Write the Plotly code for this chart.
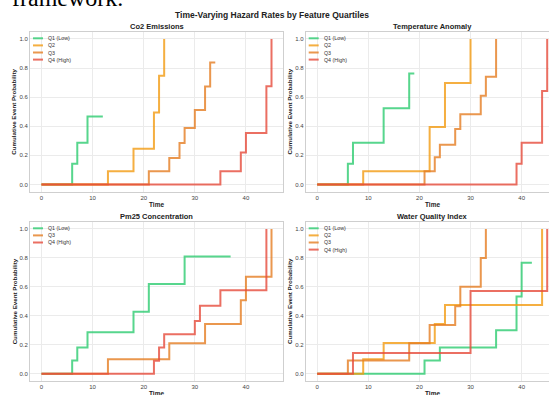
import plotly.graph_objects as go

# ---------------- data ----------------
quartile_names = ["Q1 (Low)", "Q2", "Q3", "Q4 (High)"]
quartile_colors = ["#2ecc71", "#f39c12", "#e67e22", "#e74c3c"]
panel_titles = ["Co2 Emissions", "Temperature Anomaly", "Pm25 Concentration", "Water Quality Index"]
x_ticks = [0, 10, 20, 30, 40]
y_ticks = [0.0, 0.2, 0.4, 0.6, 0.8, 1.0]

co2_q1_t = [0, 6, 7, 9, 12]
co2_q1_p = [0, 0.143, 0.286, 0.467, 0.467]
co2_q2_t = [0, 13, 18, 22, 23, 24]
co2_q2_p = [0, 0.091, 0.245, 0.495, 0.748, 1.0]
co2_q3_t = [0, 21, 25, 27, 28, 30, 32, 33, 34]
co2_q3_p = [0, 0.091, 0.182, 0.284, 0.388, 0.511, 0.674, 0.839, 0.839]
co2_q4_t = [0, 35, 39, 40, 44, 45]
co2_q4_p = [0, 0.091, 0.22, 0.353, 0.675, 1.0]

temp_q1_t = [0, 6, 7, 13, 18, 19]
temp_q1_p = [0, 0.143, 0.286, 0.524, 0.762, 0.762]
temp_q2_t = [0, 9, 22, 25, 30]
temp_q2_p = [0, 0.091, 0.394, 0.697, 1.0]
temp_q3_t = [0, 21, 23, 24, 27, 28, 32, 33, 35]
temp_q3_p = [0, 0.091, 0.186, 0.273, 0.381, 0.482, 0.61, 0.741, 1.0]
temp_q4_t = [0, 39, 40, 44, 45]
temp_q4_p = [0, 0.143, 0.286, 0.643, 1.0]

pm_q1_t = [0, 6, 7, 9, 18, 21, 28, 37]
pm_q1_p = [0, 0.091, 0.182, 0.286, 0.429, 0.619, 0.81, 0.81]
pm_q3_t = [0, 13, 25, 32, 39, 40, 45]
pm_q3_p = [0, 0.1, 0.21, 0.343, 0.508, 0.67, 1.0]
pm_q4_t = [0, 22, 23, 24, 30, 31, 35, 44]
pm_q4_p = [0, 0.09, 0.181, 0.273, 0.364, 0.47, 0.576, 1.0]

wq_q1_t = [0, 21, 24, 35, 39, 40, 42]
wq_q1_p = [0, 0.091, 0.182, 0.3, 0.533, 0.767, 0.767]
wq_q2_t = [0, 9, 13, 23, 25, 44]
wq_q2_p = [0, 0.1, 0.212, 0.343, 0.475, 1.0]
wq_q3_t = [0, 6, 18, 22, 27, 28, 32, 33]
wq_q3_p = [0, 0.091, 0.21, 0.336, 0.467, 0.6, 0.8, 1.0]
wq_q4_t = [0, 7, 30, 45]
wq_q4_p = [0, 0.143, 0.571, 1.0]

panels = [
    {0: (co2_q1_t, co2_q1_p), 1: (co2_q2_t, co2_q2_p), 2: (co2_q3_t, co2_q3_p), 3: (co2_q4_t, co2_q4_p)},
    {0: (temp_q1_t, temp_q1_p), 1: (temp_q2_t, temp_q2_p), 2: (temp_q3_t, temp_q3_p), 3: (temp_q4_t, temp_q4_p)},
    {0: (pm_q1_t, pm_q1_p), 2: (pm_q3_t, pm_q3_p), 3: (pm_q4_t, pm_q4_p)},
    {0: (wq_q1_t, wq_q1_p), 1: (wq_q2_t, wq_q2_p), 2: (wq_q3_t, wq_q3_p), 3: (wq_q4_t, wq_q4_p)},
]

# ---------------- layout (pixels) ----------------
W, H = 549, 395
PX_PER_UNIT = 253 / 49.5
axes_px = [  # left, right, top, bottom
    (30, 283, 31.7, 191.7),
    (305.7, 549, 31.7, 191.7),
    (30, 283, 221.7, 381),
    (305.7, 549, 221.7, 381),
]
FONT = "Liberation Sans, Arial, sans-serif"

def px(x):
    return x / W

def py(y):
    return 1 - y / H

fig = go.Figure()
annotations = []
shapes = []

for i, (series, (l, r, t, b)) in enumerate(zip(panels, axes_px)):
    n = "" if i == 0 else str(i + 1)
    xa, ya = "x" + n, "y" + n
    for q in range(4):
        if q not in series:
            continue
        tt, pp = series[q]
        fig.add_trace(go.Scatter(
            x=tt, y=pp, mode="lines", line=dict(color=quartile_colors[q], width=2, shape="hv"),
            opacity=0.8, name=quartile_names[q], showlegend=False, xaxis=xa, yaxis=ya,
        ))
    xmax = -2.25 + (r - l) / PX_PER_UNIT
    right_panel = i % 2 == 1
    fig.layout["xaxis" + n] = dict(
        domain=[px(l), px(r)], range=[-2.25, xmax], anchor=ya,
        tickvals=x_ticks, showgrid=True, gridcolor="#ebebeb", gridwidth=0.8,
        zeroline=False, showline=True, linecolor="#cfcfcf", linewidth=1, mirror=True,
        ticks="", tickfont=dict(size=6, color="#444", family=FONT),
    )
    fig.layout["yaxis" + n] = dict(
        domain=[py(b), py(t)], range=[-0.05, 1.05], anchor=xa,
        tickvals=y_ticks, ticktext=[f"{v:.1f}" for v in y_ticks],
        showgrid=True, gridcolor="#ebebeb", gridwidth=0.8,
        zeroline=False, showline=True, linecolor="#cfcfcf", linewidth=1,
        mirror=not right_panel, ticks="", tickfont=dict(size=6, color="#444", family=FONT),
    )
    # subplot title
    cx = (l + (l + 253)) / 2
    annotations.append(dict(text="<b>" + panel_titles[i] + "</b>", x=px(cx), y=py(t - 5.5),
                            xref="paper", yref="paper", showarrow=False, xanchor="center",
                            yanchor="middle", font=dict(size=7.5, color="#222", family=FONT)))
    # axis titles
    annotations.append(dict(text="<b>Time</b>", x=px(cx), y=py(b + 12.5),
                            xref="paper", yref="paper", showarrow=False, xanchor="center",
                            yanchor="middle", font=dict(size=6.5, color="#222", family=FONT)))
    annotations.append(dict(text="<b>Cumulative Event Probability</b>", x=px(l - 16), y=py((t + b) / 2),
                            xref="paper", yref="paper", showarrow=False, xanchor="center",
                            yanchor="middle", textangle=-90,
                            font=dict(size=6.2, color="#222", family=FONT)))
    # legend
    k = 0
    for q in range(4):
        if q not in series:
            continue
        yy = t + 6.6 + 7.1 * k
        shapes.append(dict(type="line", xref="paper", yref="paper",
                           x0=px(l + 3), x1=px(l + 13), y0=py(yy), y1=py(yy),
                           line=dict(color=quartile_colors[q], width=2), opacity=0.8))
        annotations.append(dict(text=quartile_names[q], x=px(l + 16), y=py(yy),
                                xref="paper", yref="paper", showarrow=False,
                                xanchor="left", yanchor="middle",
                                font=dict(size=5.3, color="#333", family=FONT)))
        k += 1

# main title
annotations.append(dict(text="<b>Time-Varying Hazard Rates by Feature Quartiles</b>",
                        x=px(272), y=py(15), xref="paper", yref="paper", showarrow=False,
                        xanchor="center", yanchor="middle",
                        font=dict(size=8.5, color="#222", family=FONT)))
# cropped page text above the figure
annotations.append(dict(text="framework.", x=px(10), y=py(13.5), xref="paper", yref="paper",
                        showarrow=False, xanchor="left", yanchor="bottom",
                        font=dict(size=24, color="#000", family="Liberation Serif, Times New Roman, serif")))

fig.update_layout(
    width=W, height=H, margin=dict(l=0, r=0, t=0, b=0),
    paper_bgcolor="white", plot_bgcolor="white",
    annotations=annotations, shapes=shapes, showlegend=False,
)

fig.write_html("out.html", config={"displayModeBar": False},
               post_script="document.body.style.margin='0';document.body.style.overflow='hidden';")
